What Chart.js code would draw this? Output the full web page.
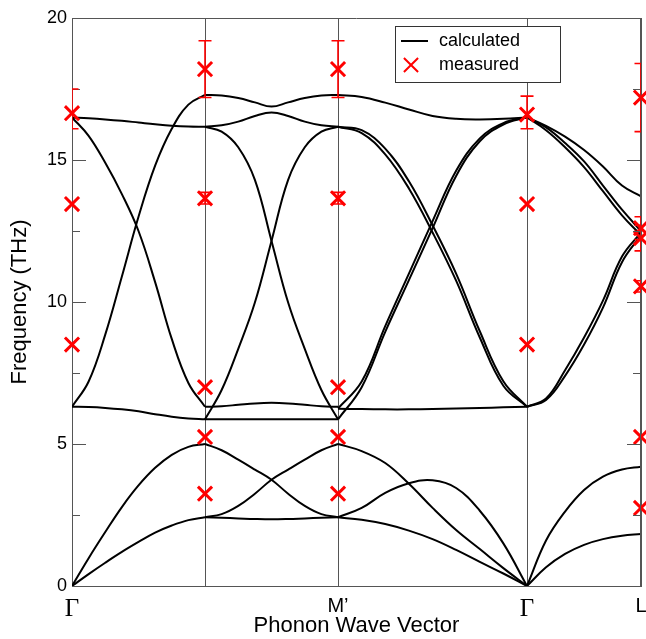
<!DOCTYPE html>
<html>
<head>
<meta charset="utf-8">
<script src="https://cdn.jsdelivr.net/npm/chart.js@4.4.1/dist/chart.umd.min.js"></script>
<style>
  html, body { margin: 0; padding: 0; background: #fff; }
  #chart { display: block; }
</style>
</head>
<body>
<canvas id="chart" width="646" height="639"></canvas>
<script>
// high-symmetry points along the path
const kPoints = [0, 1, 2, 3.421, 4.278];
const kLabels = ["Γ", "", "M’", "Γ", "L"];
const yTicks = [0, 5, 10, 15, 20];

// sample positions on each segment
const kGX = [0, 0.125, 0.25, 0.375, 0.5, 0.625, 0.75, 0.875, 1];
const kXM = [1, 1.125, 1.25, 1.375, 1.5, 1.625, 1.75, 1.875, 2];
const kMG = [2, 2.178, 2.355, 2.533, 2.711, 2.888, 3.066, 3.243, 3.421];
const kGL = [3.421, 3.564, 3.707, 3.85, 3.992, 4.135, 4.278];

// calculated branches, Γ -> X
const gxAcU = [0, 0.98, 1.9, 2.78, 3.54, 4.16, 4.62, 4.9, 5.0];
const gxAcL = [0, 0.42, 0.82, 1.2, 1.55, 1.88, 2.13, 2.32, 2.42];
const gxOpLow = [6.31, 6.3, 6.27, 6.22, 6.15, 6.05, 5.96, 5.9, 5.87];
const gxOpUp = [6.31, 7.2, 8.85, 10.9, 13.0, 14.8, 16.1, 16.95, 17.29];
const gxOpDown = [16.5, 15.85, 14.9, 13.8, 12.5, 10.7, 8.7, 7.15, 6.31];
const gxOpTop = [16.5, 16.47, 16.43, 16.38, 16.32, 16.26, 16.21, 16.18, 16.17];

// X -> M'
const xmAcDown = [5.0, 4.78, 4.45, 4.1, 3.74, 3.25, 2.82, 2.53, 2.42];
const xmAcUp = [2.42, 2.53, 2.82, 3.25, 3.74, 4.1, 4.45, 4.78, 5.0];
const xmAcFlat = [2.42, 2.4, 2.38, 2.36, 2.35, 2.36, 2.38, 2.4, 2.42];
const xmOpBase = [5.87, 5.87, 5.87, 5.87, 5.87, 5.87, 5.87, 5.87, 5.87];
const xmOpBump = [6.31, 6.33, 6.38, 6.43, 6.45, 6.43, 6.38, 6.33, 6.31];
const xmOpDown = [16.17, 16.0, 15.45, 14.3, 12.15, 9.98, 8.35, 6.9, 5.87];
const xmOpUp = [5.87, 6.9, 8.35, 9.98, 12.15, 14.3, 15.45, 16.0, 16.17];
const xmOpMid = [16.17, 16.22, 16.35, 16.55, 16.67, 16.55, 16.35, 16.22, 16.17];
const xmOpTop = [17.29, 17.27, 17.18, 17.03, 16.88, 17.03, 17.18, 17.27, 17.29];

// M' -> Γ
const mgAcDown = [5.0, 4.75, 4.33, 3.6, 2.75, 1.97, 1.3, 0.63, 0];
const mgAcHump = [2.42, 2.75, 3.28, 3.62, 3.72, 3.45, 2.65, 1.5, 0];
const mgAcLow = [2.42, 2.33, 2.18, 1.95, 1.65, 1.27, 0.85, 0.44, 0];
const mgOpLow = [6.24, 6.23, 6.22, 6.22, 6.23, 6.25, 6.27, 6.29, 6.31];
const mgOpUpA = [5.87, 7.0, 8.95, 10.77, 12.6, 14.44, 15.66, 16.25, 16.5];
const mgOpUpB = [6.25, 7.2, 9.15, 11.0, 12.85, 14.62, 15.76, 16.3, 16.5];
const mgOpDownA = [16.17, 16.05, 15.4, 14.25, 12.7, 11.0, 8.97, 7.21, 6.31];
const mgOpDownB = [16.17, 15.95, 15.2, 14.0, 12.45, 10.75, 8.75, 7.05, 6.31];
const mgOpTop = [17.29, 17.22, 17.02, 16.78, 16.55, 16.45, 16.43, 16.45, 16.5];

// Γ -> L
const glAcU = [0, 1.6, 2.62, 3.38, 3.85, 4.1, 4.2];
const glAcL = [0, 0.66, 1.13, 1.45, 1.65, 1.77, 1.83];
const glOpUpA = [6.31, 6.55, 7.4, 8.5, 9.8, 11.4, 12.35];
const glOpUpB = [6.31, 6.6, 7.6, 8.75, 10.05, 11.6, 12.45];
const glOpDownA = [16.5, 16.15, 15.6, 14.95, 14.1, 13.25, 12.5];
const glOpDownB = [16.5, 16.05, 15.45, 14.75, 13.9, 13.05, 12.35];
const glOpTop = [16.5, 16.2, 15.82, 15.35, 14.77, 14.1, 13.72];

// measured points with error bars (null = no bar)
const measK = [0, 0, 0, 1, 1, 1, 1, 1, 2, 2, 2, 2, 2, 3.421, 3.421, 3.421, 4.278, 4.278, 4.278, 4.278, 4.278, 4.278];
const measF = [16.65, 13.45, 8.5, 18.2, 13.65, 7.0, 5.25, 3.25, 18.2, 13.65, 7.0, 5.25, 3.25, 16.6, 13.45, 8.5, 17.2, 12.6, 12.25, 10.55, 5.25, 2.75];
const measLo = [16.1, null, null, 17.2, 13.45, null, null, null, 17.2, 13.45, null, null, null, 16.1, null, null, 16.0, 12.2, 11.8, 10.35, null, null];
const measHi = [17.5, null, null, 19.2, 13.86, null, null, null, 19.2, 13.86, null, null, null, 17.25, null, null, 18.4, 13.0, 12.7, 10.75, null, null];

const legendLabels = ["calculated", "measured"];

const sans = "'Liberation Sans', Arial, Helvetica, sans-serif";
const serif = "'Liberation Serif', 'Times New Roman', serif";
const frameColor = "#555";

const bands = [
  [kGX, gxAcU], [kGX, gxAcL], [kGX, gxOpLow], [kGX, gxOpUp], [kGX, gxOpDown], [kGX, gxOpTop],
  [kXM, xmAcDown], [kXM, xmAcUp], [kXM, xmAcFlat], [kXM, xmOpBase], [kXM, xmOpBump],
  [kXM, xmOpDown], [kXM, xmOpUp], [kXM, xmOpMid], [kXM, xmOpTop],
  [kMG, mgAcDown], [kMG, mgAcHump], [kMG, mgAcLow], [kMG, mgOpLow], [kMG, mgOpUpA], [kMG, mgOpUpB],
  [kMG, mgOpDownA], [kMG, mgOpDownB], [kMG, mgOpTop],
  [kGL, glAcU], [kGL, glAcL], [kGL, glOpUpA], [kGL, glOpUpB], [kGL, glOpDownA], [kGL, glOpDownB], [kGL, glOpTop],
];

function band(k, f) {
  return {
    label: legendLabels[0],
    data: k.map((x, i) => ({ x, y: f[i] })),
    borderColor: "#000",
    borderWidth: 2,
    pointRadius: 0,
    fill: false,
    tension: 0.4,
    order: 1,
  };
}

const measured = {
  label: legendLabels[1],
  data: measK.map((x, i) => ({ x, y: measF[i] })),
  showLine: false,
  pointStyle: "crossRot",
  pointRadius: 10,
  pointBorderWidth: 3,
  borderColor: "#ff0000",
  backgroundColor: "#ff0000",
  clip: false,
  order: 0,
};

// inward ticks on both sides, the box round the plot, error bars, legend
const framePlugin = {
  id: "frame",
  afterDatasetsDraw(chart) {
    const { ctx, chartArea: a, scales } = chart;
    ctx.save();
    ctx.strokeStyle = frameColor;
    ctx.lineWidth = 1;
    ctx.beginPath();
    ctx.moveTo(a.left, a.top + 0.5);
    ctx.lineTo(a.right, a.top + 0.5);
    ctx.moveTo(a.right - 0.5, a.top);
    ctx.lineTo(a.right - 0.5, a.bottom);
    for (let v = 0; v <= 20; v += 2.5) {
      const py = Math.round(scales.y.getPixelForValue(v)) + 0.5;
      const len = v % 5 === 0 ? 14 : 8;
      ctx.moveTo(a.left, py);
      ctx.lineTo(a.left + len, py);
      ctx.moveTo(a.right, py);
      ctx.lineTo(a.right - len, py);
    }
    ctx.stroke();

    ctx.beginPath();
    ctx.rect(a.left, a.top, a.right - a.left, a.bottom - a.top);
    ctx.clip();
    ctx.strokeStyle = "#ff0000";
    ctx.lineWidth = 1.6;
    ctx.beginPath();
    measK.forEach((k, i) => {
      if (measLo[i] == null) return;
      const px = scales.x.getPixelForValue(k);
      const lo = scales.y.getPixelForValue(measLo[i]);
      const hi = scales.y.getPixelForValue(measHi[i]);
      ctx.moveTo(px, lo);
      ctx.lineTo(px, hi);
      ctx.moveTo(px - 6.5, lo);
      ctx.lineTo(px + 6.5, lo);
      ctx.moveTo(px - 6.5, hi);
      ctx.lineTo(px + 6.5, hi);
    });
    ctx.stroke();
    ctx.restore();
  },
  afterDraw(chart) {
    const { ctx, chartArea: a } = chart;
    const bx = a.left + 323;
    const by = a.top + 8;
    ctx.save();
    ctx.fillStyle = "#fff";
    ctx.fillRect(bx, by, 165, 56);
    ctx.strokeStyle = "#333";
    ctx.lineWidth = 1;
    ctx.strokeRect(bx + 0.5, by + 0.5, 165, 56);
    ctx.strokeStyle = "#000";
    ctx.lineWidth = 2;
    ctx.beginPath();
    ctx.moveTo(bx + 6, by + 15);
    ctx.lineTo(bx + 33, by + 15);
    ctx.stroke();
    ctx.strokeStyle = "#ff0000";
    Chart.helpers.drawPoint(ctx, { pointStyle: "crossRot", radius: 10, borderWidth: 3 }, bx + 16, by + 39);
    ctx.fillStyle = "#000";
    ctx.font = "18px " + sans;
    ctx.textBaseline = "middle";
    ctx.fillText(legendLabels[0], bx + 44, by + 15);
    ctx.fillText(legendLabels[1], bx + 44, by + 39);
    ctx.restore();
  },
};

new Chart(document.getElementById("chart"), {
  type: "line",
  data: { datasets: [measured, ...bands.map(([k, f]) => band(k, f))] },
  options: {
    responsive: false,
    animation: false,
    layout: { autoPadding: false, padding: { top: 18, right: 5, left: 0, bottom: 0 } },
    plugins: { legend: { display: false }, tooltip: { enabled: false } },
    scales: {
      x: {
        type: "linear",
        min: 0,
        max: 4.278,
        afterBuildTicks: (s) => { s.ticks = kPoints.map((v) => ({ value: v })); },
        afterFit: (s) => { s.height = 53; s.paddingLeft = 0; s.paddingRight = 0; },
        grid: { color: frameColor, lineWidth: 1, drawTicks: false },
        border: { color: frameColor, width: 1 },
        ticks: {
          autoSkip: false,
          maxRotation: 0,
          padding: 8,
          color: "#000",
          callback: (v, i) => kLabels[i],
          font: (c) => (kLabels[c.index] === "Γ"
            ? { family: serif, size: 25 }
            : { family: sans, size: 20 }),
        },
        title: {
          display: true,
          text: "Phonon Wave Vector",
          color: "#000",
          font: { family: sans, size: 22 },
          padding: 0,
        },
      },
      y: {
        type: "linear",
        min: 0,
        max: 20,
        afterBuildTicks: (s) => { s.ticks = yTicks.map((v) => ({ value: v })); },
        afterFit: (s) => { s.width = 72; s.paddingTop = 0; s.paddingBottom = 0; },
        grid: { display: false, drawTicks: false },
        border: { color: frameColor, width: 1 },
        ticks: { padding: 5, color: "#000", font: { family: sans, size: 18 } },
        title: {
          display: true,
          text: "Frequency (THz)",
          color: "#000",
          font: { family: sans, size: 22 },
          padding: { top: 7, bottom: 0 },
        },
      },
    },
  },
  plugins: [framePlugin],
});
</script>
</body>
</html>
